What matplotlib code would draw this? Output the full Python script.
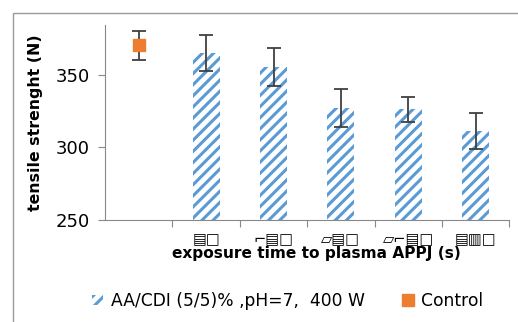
import numpy as np
import matplotlib.pyplot as plt
from matplotlib.patches import Rectangle
from matplotlib.lines import Line2D

# data
categories = ["", "▤□", "⌐▤□", "▱▤□", "▱⌐▤□", "▤▥□"]
bar_values = [365, 355, 327, 326, 311]
bar_errors = [12.5, 13, 13, 8.5, 12.5]
control_value = 370
control_error = 10

plt.rcParams['hatch.linewidth'] = 2.2
plt.rcParams['hatch.color'] = '#5B9BD5'

fig = plt.figure(figsize=(5.18, 3.22), dpi=100)
ax = fig.add_axes([0.203, 0.317, 0.780, 0.605])

x = np.arange(len(categories))
ax.bar(x[1:], bar_values, width=0.40, color='white', edgecolor='#5B9BD5',
       linewidth=0, hatch='///', zorder=2)
ax.errorbar(x[1:], bar_values, yerr=bar_errors, fmt='none', ecolor='#404040',
            elinewidth=1.3, capsize=5, capthick=1.3, zorder=3)
ax.errorbar([x[0]], [control_value], yerr=[control_error], fmt='s', color='#ED7D31',
            markersize=8.5, ecolor='#404040', elinewidth=1.3, capsize=5, capthick=1.3, zorder=3)

ax.set_xlim(-0.5, len(categories) - 0.5)
ax.set_ylim(250, 384)
ax.set_yticks([250, 300, 350])
ax.tick_params(axis='y', labelsize=13, length=5, color='#888888', pad=6)

# category boundary ticks, labels drawn separately at category centres
ax.set_xticks(x + 0.5)
ax.set_xticklabels([])
ax.tick_params(axis='x', length=5, color='#888888', direction='out')
for xi, lab in zip(x, categories):
    ax.text(xi, 236.5, lab, ha='center', va='center', fontsize=10.5, clip_on=False)

for s in ['top', 'right']:
    ax.spines[s].set_visible(False)
for s in ['left', 'bottom']:
    ax.spines[s].set_color('#888888')

ax.set_ylabel("tensile strenght (N)", fontsize=11.3, fontweight='bold', labelpad=9)
ax.set_xlabel("exposure time to plasma APPJ (s)", fontsize=11.1, fontweight='bold')
ax.xaxis.set_label_coords(0.522, -0.135)

handles = [Rectangle((0, 0), 1, 1, facecolor='white', edgecolor='#5B9BD5', linewidth=0, hatch='///'),
           Line2D([], [], marker='s', color='#ED7D31', linestyle='none', markersize=8)]
fig.legend(handles, ["AA/CDI (5/5)% ,pH=7,  400 W", "Control"], loc='center',
           bbox_to_anchor=(0.556, 0.065), ncol=2, frameon=False, fontsize=12.3,
           handlelength=0.6, handleheight=0.6, handletextpad=0.5, columnspacing=2.2)

fig.patches.append(Rectangle((0.025, -0.1), 1.1, 1.06, transform=fig.transFigure,
                             fill=False, edgecolor='#999999', linewidth=1))

fig.savefig("out.png", dpi=100)
